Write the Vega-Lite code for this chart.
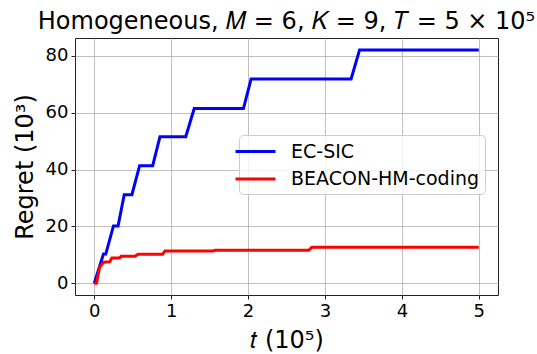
{
  "$schema": "https://vega.github.io/schema/vega-lite/v6.json",
  "width": 423,
  "height": 257,
  "autosize": {"type": "none"},
  "padding": {"left": 75, "top": 38, "right": 39, "bottom": 59},
  "background": "white",
  "config": {
    "font": "DejaVu Sans",
    "view": {"stroke": "#222222", "strokeWidth": 1},
    "axis": {
      "labelFont": "DejaVu Sans",
      "titleFont": "DejaVu Sans",
      "labelFontSize": 18,
      "titleFontSize": 24,
      "titleFontWeight": "normal",
      "labelColor": "#000000",
      "titleColor": "#000000",
      "tickColor": "#222222",
      "tickSize": 4,
      "tickWidth": 1,
      "labelPadding": 3,
      "domain": false,
      "grid": true,
      "gridColor": "#b0b0b0",
      "gridWidth": 0.8
    }
  },
  "title": {
    "text": "Homogeneous, 𝑀 = 6, 𝐾 = 9, 𝑇 = 5 × 10⁵",
    "font": "DejaVu Sans",
    "fontSize": 24,
    "fontWeight": "normal",
    "color": "#000000",
    "anchor": "middle",
    "baseline": "alphabetic",
    "offset": 10,
    "dy": 25
  },
  "data": {
    "values": [
      {"s": "EC-SIC", "t": 0, "r": 0},
      {"s": "EC-SIC", "t": 0.12, "r": 10.3},
      {"s": "EC-SIC", "t": 0.15, "r": 10.3},
      {"s": "EC-SIC", "t": 0.25, "r": 20.2},
      {"s": "EC-SIC", "t": 0.31, "r": 20.2},
      {"s": "EC-SIC", "t": 0.39, "r": 31.2},
      {"s": "EC-SIC", "t": 0.49, "r": 31.2},
      {"s": "EC-SIC", "t": 0.59, "r": 41.4},
      {"s": "EC-SIC", "t": 0.76, "r": 41.4},
      {"s": "EC-SIC", "t": 0.855, "r": 51.6},
      {"s": "EC-SIC", "t": 1.19, "r": 51.6},
      {"s": "EC-SIC", "t": 1.3, "r": 61.5},
      {"s": "EC-SIC", "t": 1.94, "r": 61.5},
      {"s": "EC-SIC", "t": 2.04, "r": 71.9},
      {"s": "EC-SIC", "t": 3.34, "r": 71.9},
      {"s": "EC-SIC", "t": 3.45, "r": 82.1},
      {"s": "EC-SIC", "t": 5.0, "r": 82.1},
      {"s": "BEACON-HM-coding", "t": 0, "r": 0},
      {"s": "BEACON-HM-coding", "t": 0.03, "r": 0},
      {"s": "BEACON-HM-coding", "t": 0.069, "r": 5.6},
      {"s": "BEACON-HM-coding", "t": 0.12, "r": 7.4},
      {"s": "BEACON-HM-coding", "t": 0.2, "r": 7.6},
      {"s": "BEACON-HM-coding", "t": 0.23, "r": 8.9},
      {"s": "BEACON-HM-coding", "t": 0.33, "r": 8.9},
      {"s": "BEACON-HM-coding", "t": 0.35, "r": 9.5},
      {"s": "BEACON-HM-coding", "t": 0.53, "r": 9.5},
      {"s": "BEACON-HM-coding", "t": 0.57, "r": 10.2},
      {"s": "BEACON-HM-coding", "t": 0.89, "r": 10.2},
      {"s": "BEACON-HM-coding", "t": 0.92, "r": 11.4},
      {"s": "BEACON-HM-coding", "t": 1.55, "r": 11.4},
      {"s": "BEACON-HM-coding", "t": 1.57, "r": 11.6},
      {"s": "BEACON-HM-coding", "t": 2.79, "r": 11.6},
      {"s": "BEACON-HM-coding", "t": 2.83, "r": 12.7},
      {"s": "BEACON-HM-coding", "t": 5.0, "r": 12.7}
    ]
  },
  "mark": {"type": "line", "strokeWidth": 3, "clip": true},
  "encoding": {
    "x": {
      "field": "t",
      "type": "quantitative",
      "scale": {"domain": [-0.25, 5.25], "nice": false, "zero": false},
      "axis": {
        "title": "𝑡 (10⁵)",
        "values": [0, 1, 2, 3, 4, 5],
        "format": "d",
        "titleY": 52,
        "titleBaseline": "alphabetic"
      }
    },
    "y": {
      "field": "r",
      "type": "quantitative",
      "scale": {"domain": [-4.1, 86.3], "nice": false, "zero": false},
      "axis": {
        "title": "Regret (10³)",
        "values": [0, 20, 40, 60, 80],
        "format": "d",
        "titleX": -43,
        "titleBaseline": "alphabetic"
      }
    },
    "order": {"field": "t", "type": "quantitative"},
    "color": {
      "field": "s",
      "type": "nominal",
      "scale": {"domain": ["EC-SIC", "BEACON-HM-coding"], "range": ["#0000ff", "#ff0000"]},
      "legend": {
        "title": null,
        "orient": "none",
        "legendX": 164,
        "legendY": 97,
        "symbolType": "M-2,0H2",
        "symbolSize": 400,
        "symbolStrokeWidth": 3,
        "labelFont": "DejaVu Sans",
        "labelFontSize": 19,
        "labelColor": "#000000",
        "labelOffset": 24,
        "labelLimit": 400,
        "rowPadding": 5.5,
        "padding": 5,
        "fillColor": "rgba(255,255,255,0.8)",
        "strokeColor": "#cccccc",
        "cornerRadius": 4
      }
    }
  }
}
